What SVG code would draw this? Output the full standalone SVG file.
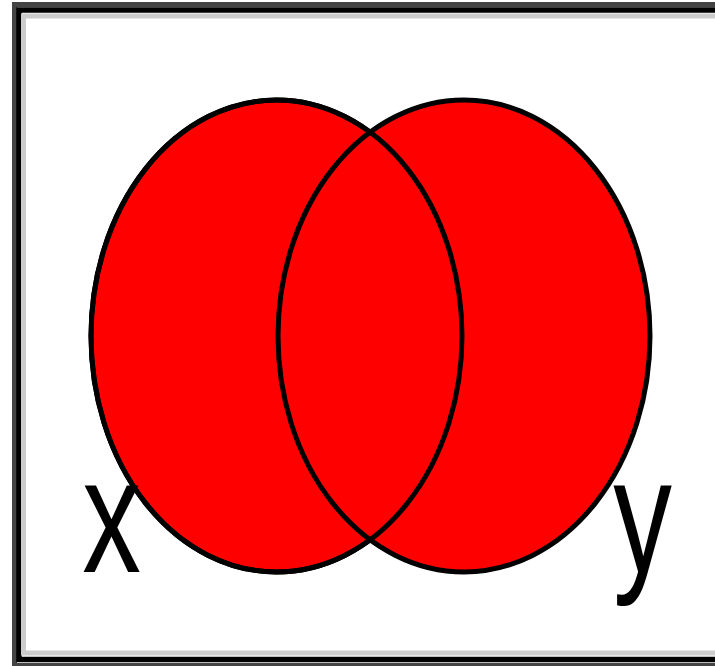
<svg xmlns="http://www.w3.org/2000/svg" width="715" height="666" viewBox="0 0 715 666">
  <style>
    .set { fill: #ff0000; stroke: #000000; stroke-width: 5; }
    .lbl { font-family: "Liberation Sans", Arial, sans-serif; font-size: 163px; fill: #000000; text-anchor: middle; }
  </style>
  <rect width="715" height="666" fill="#ffffff"/>
  <g id="frame" fill="none">
    <rect x="14.5" y="4.5" width="720" height="661" stroke="#444444" stroke-width="5"/>
    <rect x="19" y="10" width="720" height="649.5" stroke="#000000" stroke-width="5.5"/>
    <rect x="23.5" y="16" width="720" height="637" stroke="#cccccc" stroke-width="5"/>
  </g>
  <g id="set-x">
    <ellipse class="set" cx="276.5" cy="336" rx="185.5" ry="236"/>
  </g>
  <g id="set-y">
    <ellipse class="set" cx="464" cy="336" rx="186" ry="236"/>
  </g>
  <g id="overlap-outline">
    <ellipse cx="276.5" cy="336" rx="185.5" ry="236" fill="none" stroke="#000000" stroke-width="5"/>
  </g>
  <g id="label-x">
    <text class="lbl" transform="translate(111.5,572) scale(0.72,1)">x</text>
  </g>
  <g id="label-y">
    <text class="lbl" transform="translate(642.5,572) scale(0.72,1)">y</text>
  </g>
</svg>
